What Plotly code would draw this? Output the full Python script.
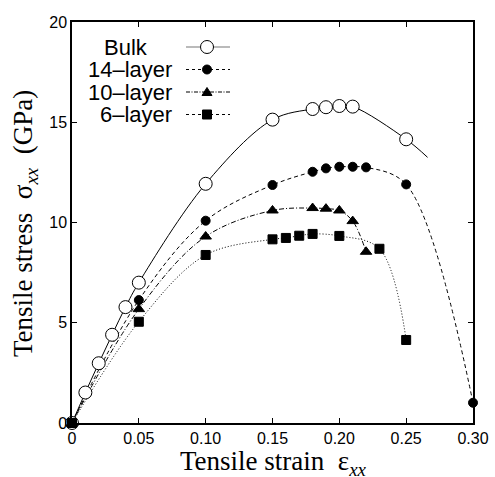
import plotly.graph_objects as go

# ---------------- data ----------------
bulk_x = [0.0, 0.01, 0.02, 0.03, 0.04, 0.05, 0.10, 0.15, 0.18, 0.19, 0.20, 0.21, 0.25]
bulk_y = [0.0, 1.52, 2.98, 4.40, 5.78, 7.00, 11.93, 15.13, 15.66, 15.75, 15.81, 15.78, 14.15]
# end of the bulk fit curve (drawn beyond the last point)
bulk_tail_x = [0.266]
bulk_tail_y = [13.25]

l14_x = [0.0, 0.05, 0.10, 0.15, 0.18, 0.19, 0.20, 0.21, 0.22, 0.25, 0.30]
l14_y = [0.0, 6.13, 10.09, 11.87, 12.53, 12.70, 12.78, 12.78, 12.75, 11.90, 1.01]

l10_x = [0.0, 0.05, 0.10, 0.15, 0.18, 0.19, 0.20, 0.21, 0.22]
l10_y = [0.0, 5.68, 9.30, 10.60, 10.72, 10.69, 10.60, 10.07, 8.54]

l6_x = [0.0, 0.05, 0.10, 0.15, 0.16, 0.17, 0.18, 0.20, 0.23, 0.25]
l6_y = [0.0, 5.05, 8.38, 9.16, 9.23, 9.34, 9.43, 9.33, 8.69, 4.14]

series_names = ["Bulk", "14\u2013layer", "10\u2013layer", "6\u2013layer"]

x_title = "Tensile strain\u00a0\u00a0\u03b5<sub><i>xx</i></sub>"
y_title = "Tensile stress\u00a0\u00a0\u03c3<sub><i>xx</i></sub>\u00a0\u00a0(GPa)"

x_tickvals = [0, 0.05, 0.10, 0.15, 0.20, 0.25, 0.30]
x_ticktext = ["0", "0.05", "0.10", "0.15", "0.20", "0.25", "0.30"]
y_tickvals = [0, 5, 10, 15, 20]
y_ticktext = ["0", "5", "10", "15", "20"]

# ---------------- figure ----------------
fig = go.Figure()

styles = [
    dict(dash="solid", symbol="circle", size=13, color="white"),
    dict(dash="4px,3px", symbol="circle", size=9, color="black"),
    dict(dash="5px,2px,1px,2px", symbol="triangle-up", size=10, color="black"),
    dict(dash="1px,2px", symbol="square", size=9, color="black"),
]

data = [
    (bulk_x + bulk_tail_x, bulk_y + bulk_tail_y, bulk_x, bulk_y),
    (l14_x, l14_y, l14_x, l14_y),
    (l10_x, l10_y, l10_x, l10_y),
    (l6_x, l6_y, l6_x, l6_y),
]

for (lx, ly, mx, my), st, name in zip(data, styles, series_names):
    fig.add_trace(go.Scatter(
        x=lx, y=ly, mode="lines", showlegend=False, cliponaxis=False,
        line=dict(color="black", width=1, dash=st["dash"], shape="spline", smoothing=1.0),
        hoverinfo="skip", name=name))
for (lx, ly, mx, my), st, name in zip(data, styles, series_names):
    fig.add_trace(go.Scatter(
        x=mx, y=my, mode="markers", showlegend=False, cliponaxis=False, name=name,
        marker=dict(symbol=st["symbol"], size=st["size"], color=st["color"],
                    line=dict(color="black", width=1))))

L, R, T, B = 72, 22, 22, 54
W, H = 495, 477
pw, ph = W - L - R, H - T - B

def px_x(px):
    return (px - L) / pw

def px_y(py):
    return (H - B - py) / ph

# ---------------- hand-made legend (text left, sample right) ----------------
legend_font = dict(family="Liberation Sans, Arial, sans-serif", size=22, color="black")
row_y = [47, 69.5, 92, 114.5]
legend_dash = ["solid", "3px,3px", "4px,1.5px,1px,1.5px", "3px,3px"]
line_x0, line_x1, mark_x = 186, 230, 207

for i, (name, yy) in enumerate(zip(series_names, row_y)):
    if i == 0:
        fig.add_annotation(x=px_x(102), y=px_y(yy), xref="paper", yref="paper",
                           text=name, showarrow=False, xanchor="left", yanchor="middle",
                           font=legend_font)
    else:
        fig.add_annotation(x=px_x(174), y=px_y(yy), xref="paper", yref="paper",
                           text=name, showarrow=False, xanchor="right", yanchor="middle",
                           font=legend_font)
    fig.add_shape(type="line", xref="paper", yref="paper",
                  x0=px_x(line_x0), x1=px_x(line_x1), y0=px_y(yy), y1=px_y(yy),
                  line=dict(color="#777777" if i == 0 else "black", width=1.2, dash=legend_dash[i]))
    st = styles[i]
    r = st["size"] / 2
    if st["symbol"] == "circle":
        fig.add_shape(type="circle", xref="paper", yref="paper",
                      x0=px_x(mark_x - r), x1=px_x(mark_x + r),
                      y0=px_y(yy + r), y1=px_y(yy - r),
                      fillcolor=st["color"], line=dict(color="black", width=1))
    elif st["symbol"] == "square":
        fig.add_shape(type="rect", xref="paper", yref="paper",
                      x0=px_x(mark_x - r), x1=px_x(mark_x + r),
                      y0=px_y(yy + r), y1=px_y(yy - r),
                      fillcolor="black", line=dict(color="black", width=1))
    else:
        path = "M {:.5f},{:.5f} L {:.5f},{:.5f} L {:.5f},{:.5f} Z".format(
            px_x(mark_x - r), px_y(yy + r * 0.7),
            px_x(mark_x + r), px_y(yy + r * 0.7),
            px_x(mark_x), px_y(yy - r * 0.9))
        fig.add_shape(type="path", xref="paper", yref="paper", path=path,
                      fillcolor="black", line=dict(color="black", width=1))

# ---------------- axis titles ----------------
titlefont = dict(family="Liberation Serif, Times New Roman, serif", size=27, color="black")
fig.add_annotation(x=px_x(273), y=px_y(463), xref="paper", yref="paper", text=x_title,
                   showarrow=False, xanchor="center", yanchor="middle", font=titlefont)
fig.add_annotation(x=px_x(25), y=px_y(224), xref="paper", yref="paper", text=y_title,
                   showarrow=False, xanchor="center", yanchor="middle", textangle=-90,
                   font=titlefont)

tickfont = dict(family="Liberation Sans, Arial, sans-serif", size=16, color="black")

fig.update_xaxes(
    range=[0, 0.30], tickvals=x_tickvals, ticktext=x_ticktext,
    ticks="inside", ticklen=5, tickwidth=1, tickcolor="black",
    showline=True, linecolor="black", linewidth=1.5, mirror="ticks",
    showgrid=False, zeroline=False, tickfont=tickfont, automargin=False,
)
fig.update_yaxes(
    range=[0, 20], tickvals=y_tickvals, ticktext=y_ticktext,
    ticks="inside", ticklen=5, tickwidth=1, tickcolor="black",
    showline=True, linecolor="black", linewidth=1.5, mirror="ticks",
    showgrid=False, zeroline=False, tickfont=tickfont, automargin=False,
)

fig.update_layout(
    width=W, height=H,
    margin=dict(l=L, r=R, t=T, b=B, pad=0),
    plot_bgcolor="white", paper_bgcolor="white",
    showlegend=False,
    font=dict(family="Liberation Sans, Arial, sans-serif", color="black"),
)

fig.write_html("out.html")
